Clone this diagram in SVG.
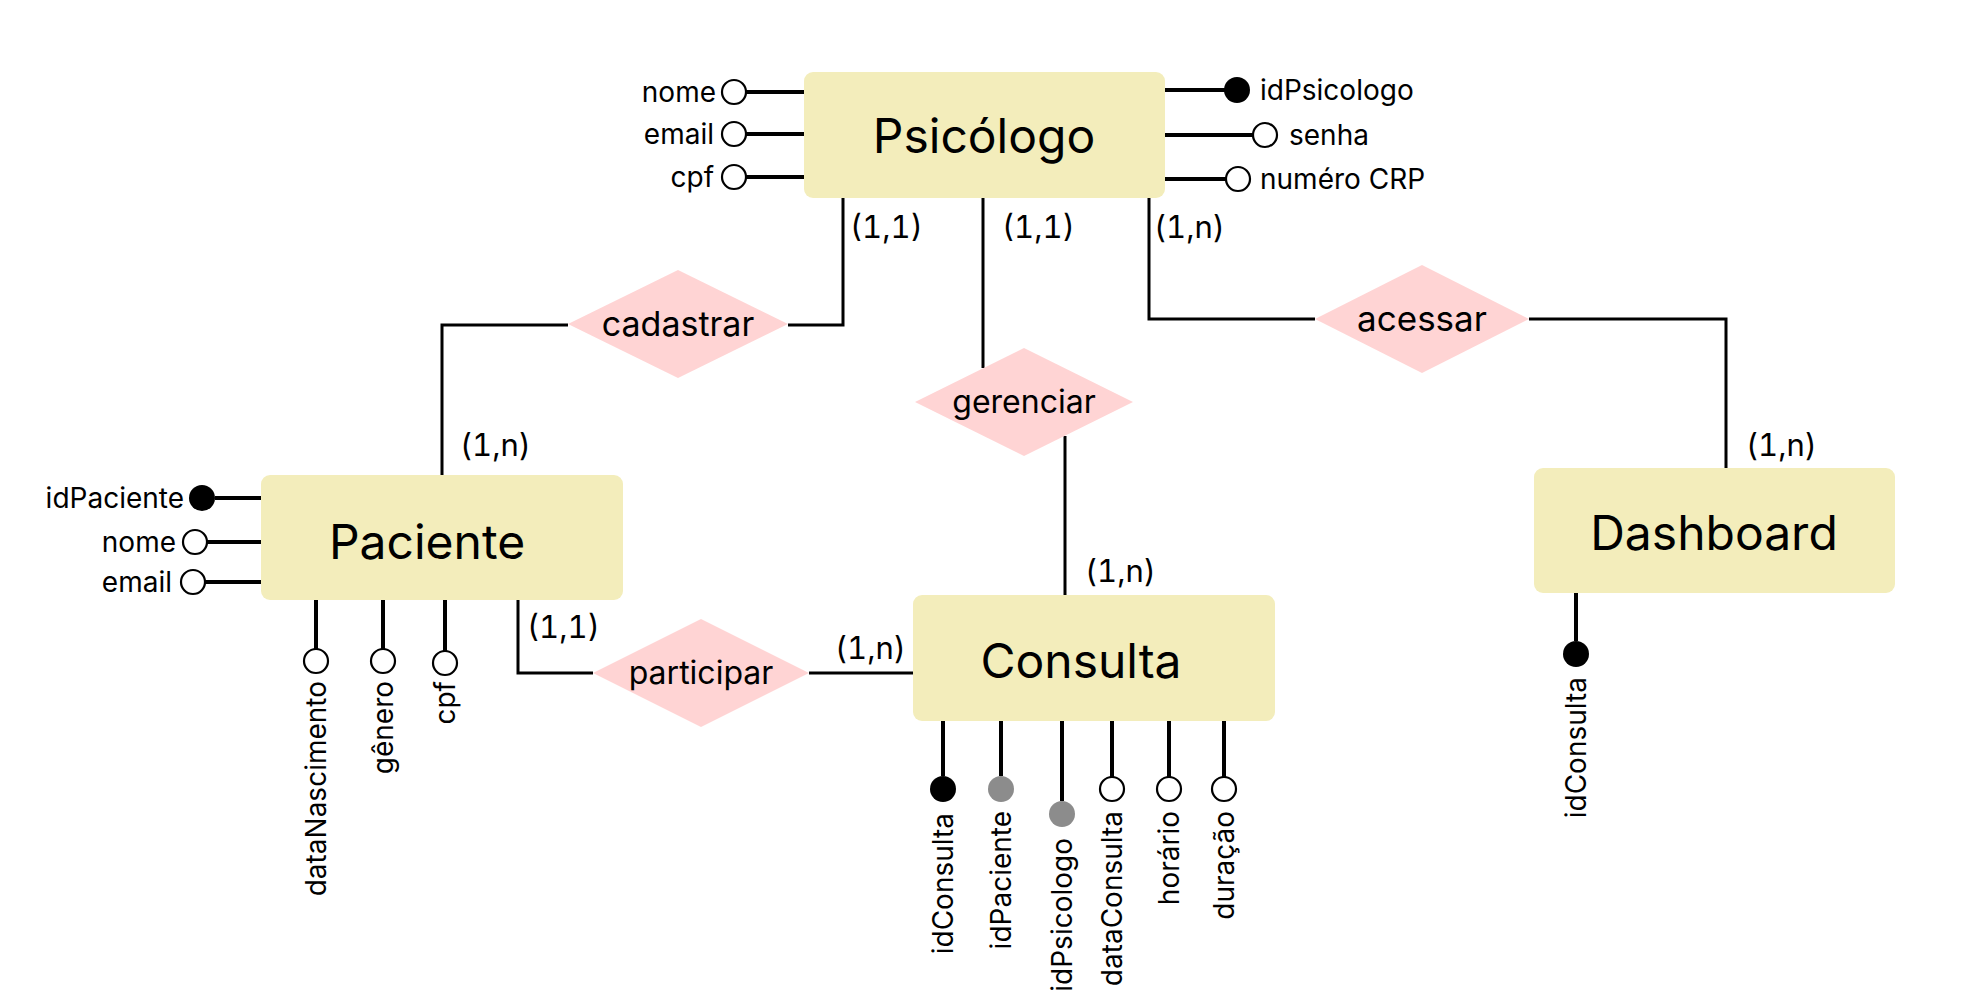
<svg xmlns="http://www.w3.org/2000/svg" width="1977" height="994" viewBox="0 0 1977 994">
<style>
.ent{fill:#f3edbb}
.rel{fill:#ffd4d4}
.et{font-family:Inter,"Liberation Sans",sans-serif;font-size:48px;fill:#000;text-anchor:middle}
.rt{font-family:Inter,"Liberation Sans",sans-serif;font-size:34px;fill:#000;text-anchor:middle}
.at{font-family:Inter,"Liberation Sans",sans-serif;font-size:28px;fill:#000}
.ct{font-family:Inter,"Liberation Sans",sans-serif;font-size:31px;fill:#000;font-variant-numeric:tabular-nums}
.al{stroke:#000;stroke-width:4;fill:none}
.cl{stroke:#000;stroke-width:3;fill:none}
.oc{fill:#fff;stroke:#000;stroke-width:2.2}
.fc{fill:#000}
.gc{fill:#8c8c8c}
.end{text-anchor:end}
</style>
<rect width="1977" height="994" fill="#fff"/>
<g id="connectors">
<polyline class="cl" points="843,198 843,325 788,325"/>
<polyline class="cl" points="568,325 442,325 442,475"/>
<line class="cl" x1="983" y1="198" x2="983" y2="368"/>
<line class="cl" x1="1065" y1="436" x2="1065" y2="595"/>
<polyline class="cl" points="1149,198 1149,319 1315,319"/>
<polyline class="cl" points="1529,319 1726,319 1726,468"/>
<polyline class="cl" points="518,600 518,673 593,673"/>
<line class="cl" x1="809" y1="673" x2="913" y2="673"/>
<text class="ct" x="850" y="238">(1,1)</text>
<text class="ct" x="1002" y="238">(1,1)</text>
<text class="ct" x="1154" y="238">(1,n)</text>
<text class="ct" x="460" y="456">(1,n)</text>
<text class="ct" x="1746" y="456">(1,n)</text>
<text class="ct" x="1085" y="582">(1,n)</text>
<text class="ct" x="527" y="638">(1,1)</text>
<text class="ct" x="835" y="659">(1,n)</text>
</g>
<g id="psicologo">
<rect class="ent" x="804" y="72" width="361" height="126" rx="9"/>
<text class="et" x="984" y="153">Psicólogo</text>
<line class="al" x1="746" y1="92" x2="804" y2="92"/>
<circle class="oc" cx="734" cy="92" r="12"/>
<text class="at end" x="716" y="102">nome</text>
<line class="al" x1="746" y1="134" x2="804" y2="134"/>
<circle class="oc" cx="734" cy="134" r="12"/>
<text class="at end" x="714" y="144">email</text>
<line class="al" x1="746" y1="177" x2="804" y2="177"/>
<circle class="oc" cx="734" cy="177" r="12"/>
<text class="at end" x="714" y="187">cpf</text>
<line class="al" x1="1165" y1="90" x2="1225" y2="90"/>
<circle class="fc" cx="1237" cy="90" r="13"/>
<text class="at" x="1260" y="100">idPsicologo</text>
<line class="al" x1="1165" y1="135" x2="1253" y2="135"/>
<circle class="oc" cx="1265" cy="135" r="12"/>
<text class="at" x="1289" y="145">senha</text>
<line class="al" x1="1165" y1="179" x2="1226" y2="179"/>
<circle class="oc" cx="1238" cy="179" r="12"/>
<text class="at" x="1260" y="189">numéro CRP</text>
</g>
<g id="cadastrar">
<polygon class="rel" points="568,324 678,270 788,324 678,378"/>
<text class="rt" x="678" y="336" font-size="35">cadastrar</text>
</g>
<g id="gerenciar">
<polygon class="rel" points="915,402 1024,348 1133,402 1024,456"/>
<text class="rt" x="1024" y="413" style="font-size:32px">gerenciar</text>
</g>
<g id="acessar">
<polygon class="rel" points="1315,319 1422,265 1529,319 1422,373"/>
<text class="rt" x="1422" y="331" style="font-size:35px">acessar</text>
</g>
<g id="participar">
<polygon class="rel" points="593,673 701,619 809,673 701,727"/>
<text class="rt" x="701" y="684" style="font-size:32px">participar</text>
</g>
<g id="paciente">
<rect class="ent" x="261" y="475" width="362" height="125" rx="9"/>
<text class="et" x="427" y="559">Paciente</text>
<line class="al" x1="215" y1="498" x2="261" y2="498"/>
<circle class="fc" cx="202" cy="498" r="13"/>
<text class="at end" x="184" y="508">idPaciente</text>
<line class="al" x1="207" y1="542" x2="261" y2="542"/>
<circle class="oc" cx="195" cy="542" r="12"/>
<text class="at end" x="176" y="552">nome</text>
<line class="al" x1="205" y1="582" x2="261" y2="582"/>
<circle class="oc" cx="193" cy="582" r="12"/>
<text class="at end" x="172" y="592">email</text>
<line class="al" x1="316" y1="600" x2="316" y2="649"/>
<circle class="oc" cx="316" cy="661" r="12"/>
<text class="at end" transform="translate(326,681) rotate(-90)">dataNascimento</text>
<line class="al" x1="383" y1="600" x2="383" y2="649"/>
<circle class="oc" cx="383" cy="661" r="12"/>
<text class="at end" transform="translate(393,681) rotate(-90)">gênero</text>
<line class="al" x1="445" y1="600" x2="445" y2="651"/>
<circle class="oc" cx="445" cy="663" r="12"/>
<text class="at end" transform="translate(455,681) rotate(-90)">cpf</text>
</g>
<g id="consulta">
<rect class="ent" x="913" y="595" width="362" height="126" rx="9"/>
<text class="et" x="1081" y="678">Consulta</text>
<line class="al" x1="943" y1="721" x2="943" y2="776"/>
<circle class="fc" cx="943" cy="789" r="13"/>
<text class="at end" transform="translate(953,813) rotate(-90)">idConsulta</text>
<line class="al" x1="1001" y1="721" x2="1001" y2="776"/>
<circle class="gc" cx="1001" cy="789" r="13"/>
<text class="at end" transform="translate(1011,811) rotate(-90)">idPaciente</text>
<line class="al" x1="1062" y1="721" x2="1062" y2="801"/>
<circle class="gc" cx="1062" cy="814" r="13"/>
<text class="at end" transform="translate(1072,838) rotate(-90)">idPsicologo</text>
<line class="al" x1="1112" y1="721" x2="1112" y2="777"/>
<circle class="oc" cx="1112" cy="789" r="12"/>
<text class="at end" transform="translate(1122,811) rotate(-90)">dataConsulta</text>
<line class="al" x1="1169" y1="721" x2="1169" y2="777"/>
<circle class="oc" cx="1169" cy="789" r="12"/>
<text class="at end" transform="translate(1179,811) rotate(-90)">horário</text>
<line class="al" x1="1224" y1="721" x2="1224" y2="777"/>
<circle class="oc" cx="1224" cy="789" r="12"/>
<text class="at end" transform="translate(1234,811) rotate(-90)">duração</text>
</g>
<g id="dashboard">
<rect class="ent" x="1534" y="468" width="361" height="125" rx="9"/>
<text class="et" x="1714" y="550">Dashboard</text>
<line class="al" x1="1576" y1="593" x2="1576" y2="641"/>
<circle class="fc" cx="1576" cy="654" r="13"/>
<text class="at end" transform="translate(1586,677) rotate(-90)">idConsulta</text>
</g>
</svg>
